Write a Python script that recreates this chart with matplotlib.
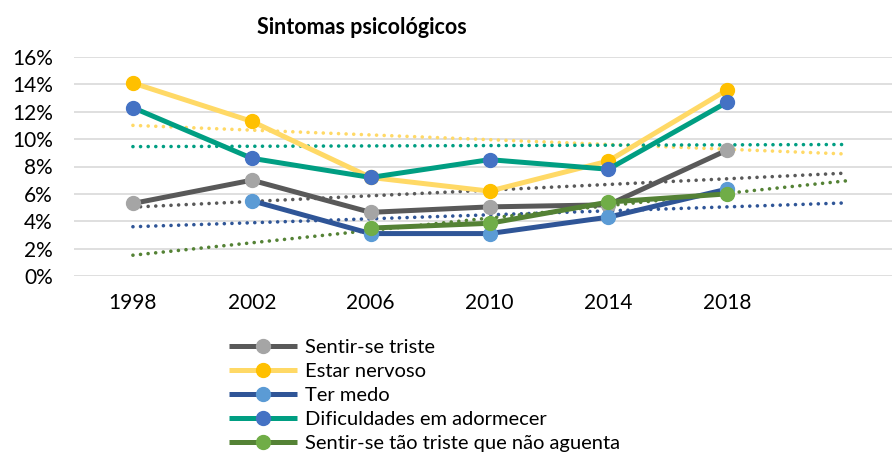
import numpy as np
import matplotlib
matplotlib.use('Agg')
import matplotlib.pyplot as plt

plt.rcParams['font.family'] = ['Lato', 'DejaVu Sans']

years = ['1998', '2002', '2006', '2010', '2014', '2018']
triste = [5.3, 7.0, 4.65, 5.05, 5.2, 9.2]
nervoso = [14.1, 11.3, 7.2, 6.2, 8.4, 13.6]
medo = [np.nan, 5.5, 3.1, 3.1, 4.3, 6.35]
adormecer = [12.3, 8.6, 7.2, 8.5, 7.8, 12.7]
nao_aguenta = [np.nan, np.nan, 3.5, 3.85, 5.4, 6.0]

labels = ['Sentir-se triste', 'Estar nervoso', 'Ter medo',
          'Dificuldades em adormecer', 'Sentir-se tão triste que não aguenta']
line_cols = ['#595959', '#ffd966', '#2f5597', '#009e82', '#548235']
mark_cols = ['#a5a5a5', '#ffc000', '#5b9bd5', '#4472c4', '#70ad47']

fig = plt.figure(figsize=(8.92, 4.68), dpi=100)
ax = fig.add_axes([73.5/892, 1-276/468, 832/892, 219/468])

x = np.arange(len(years))
xt = np.arange(len(years) + 1)  # trendline forecast one period forward
series = [triste, nervoso, medo, adormecer, nao_aguenta]

for i, s in enumerate(series):
    s = np.array(s, dtype=float)
    ok = ~np.isnan(s)
    coef = np.polyfit(x[ok], s[ok], 1)
    ax.plot(xt, np.polyval(coef, xt), color=line_cols[i], lw=2.6,
            linestyle=(0, (0.01, 2.1)), dash_capstyle='round', zorder=2)

for i, s in enumerate(series):
    ax.plot(x, s, color=line_cols[i], lw=3.6, marker='o', markersize=10,
            markerfacecolor=mark_cols[i], markeredgecolor=mark_cols[i],
            label=labels[i], zorder=3 + i, solid_capstyle='butt')

ax.set_xlim(-0.5, 6.5)
ax.set_ylim(0, 16)
ax.set_yticks(range(0, 17, 2))
ax.set_yticklabels(['%d%%' % v for v in range(0, 17, 2)])
ax.set_xticks(x)
ax.set_xticklabels(years)
ax.tick_params(axis='both', length=0, labelsize=15, colors='black')
ax.tick_params(axis='x', pad=12)
ax.tick_params(axis='y', pad=15)
ax.grid(axis='y', color='#d9d9d9', lw=1.2)
ax.set_axisbelow(True)
for sp in ax.spines.values():
    sp.set_visible(False)

fig.text(362/892, 1-28/468, 'Sintomas psicológicos', ha='center', va='center',
         fontsize=15.5, fontweight='bold')

fig.legend(loc='upper left', bbox_to_anchor=(229/892, 1-339/468), frameon=False,
           fontsize=14.5, handlelength=3.4, handletextpad=0.35, labelspacing=0.34,
           borderaxespad=0, borderpad=0)

fig.savefig('out.png', dpi=100)
